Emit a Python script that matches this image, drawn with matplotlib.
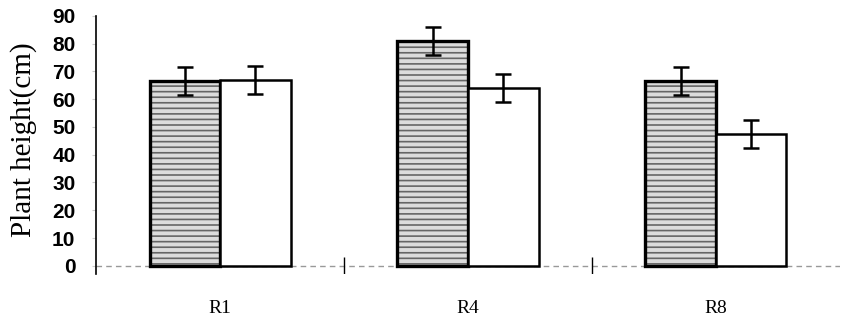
import matplotlib.pyplot as plt
import numpy as np

# values
groups = ['R1', 'R4', 'R8']
height_a = [66.5, 81, 66.5]
err_a = [5, 5, 5]
height_b = [67, 64, 47.5]
err_b = [5, 5, 5]
yticks = [0, 10, 20, 30, 40, 50, 60, 70, 80, 90]

plt.rcParams['hatch.linewidth'] = 1.2

fig = plt.figure(figsize=(8.44, 3.24), dpi=100)
ax = fig.add_axes([0.114, 0.154, 0.881, 0.797])

x = np.arange(len(groups))
w = 0.285

# hatched (grey wavy) bars, then outline on top
ax.bar(x - w / 2, height_a, w, color='#dcdcdc', edgecolor='#666666',
       hatch='---', linewidth=0, zorder=2)
ax.bar(x - w / 2, height_a, w, fill=False, edgecolor='black',
       linewidth=2.4, zorder=3)
ax.bar(x + w / 2, height_b, w, color='white', edgecolor='black',
       linewidth=1.8, zorder=3)

ax.errorbar(x - w / 2, height_a, yerr=err_a, fmt='none', ecolor='black',
            elinewidth=1.8, capsize=6, capthick=1.8, zorder=4)
ax.errorbar(x + w / 2, height_b, yerr=err_b, fmt='none', ecolor='black',
            elinewidth=1.8, capsize=6, capthick=1.8, zorder=4)

# faint dashed baseline with separators between groups
ax.axhline(0, color='#999999', linewidth=1, linestyle=(0, (4, 3)), zorder=1)
ax.vlines(x[:-1] + 0.5, -3, 3, color='black', linewidth=1)

ax.set_xlim(-0.5, 2.5)
ax.set_ylim(-3, 90)
ax.set_yticks(yticks)
ax.set_xticks(x)
ax.set_xticklabels(groups, family='Liberation Serif', fontsize=14)
ax.tick_params(axis='x', length=0, pad=19)
ax.tick_params(axis='y', length=3, color='#cccccc', pad=12, labelsize=15)
for lbl in ax.get_yticklabels():
    lbl.set_family('Liberation Sans')
    lbl.set_fontweight('bold')

for s in ['top', 'right', 'bottom']:
    ax.spines[s].set_visible(False)
ax.spines['left'].set_linewidth(1.2)

ax.set_ylabel('Plant height(cm)', family='Liberation Serif', fontsize=21)
ax.yaxis.set_label_coords(-0.079, 0.52)

fig.savefig('out.png', dpi=100)
